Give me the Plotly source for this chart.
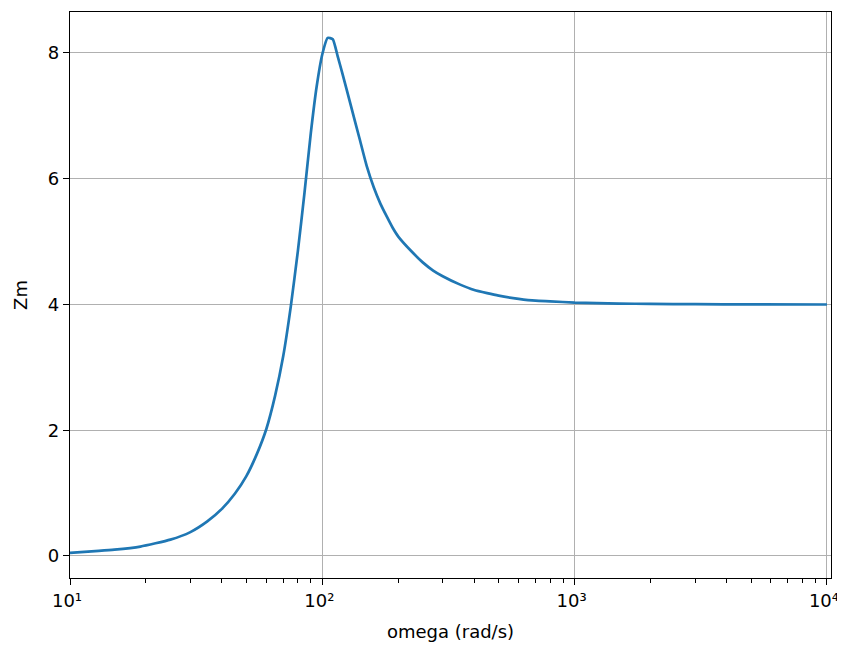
import plotly.graph_objects as go

omega = [10, 13, 15, 19, 25, 30, 35, 40, 45, 50, 55, 60, 65, 70, 75, 80, 85, 90, 95,
         100, 105, 110, 115, 120, 130, 140, 150, 160, 170, 180, 190, 200, 225, 250,
         275, 300, 350, 400, 450, 500, 600, 700, 800, 1000, 1500, 2000, 3000, 5000, 10000]
zm = [0.05, 0.08, 0.10, 0.15, 0.26, 0.38, 0.55, 0.75, 0.99, 1.27, 1.62, 2.02, 2.55,
      3.18, 3.97, 4.85, 5.78, 6.72, 7.47, 7.98, 8.24, 8.22, 7.95, 7.68, 7.15, 6.66,
      6.20, 5.86, 5.60, 5.40, 5.22, 5.08, 4.85, 4.67, 4.54, 4.45, 4.32, 4.23, 4.18,
      4.14, 4.09, 4.06, 4.05, 4.03, 4.015, 4.01, 4.005, 4.002, 4.0]

x_tickvals = [10, 100, 1000, 10000]
x_ticktext = ["10¹", "10²", "10³", "10⁴"]
y_tickvals = [0, 2, 4, 6, 8]
minor_vals = [m * d for d in (10, 100, 1000) for m in range(2, 10)]

font = dict(family="DejaVu Sans", size=18, color="black")

fig = go.Figure()
fig.add_trace(go.Scatter(x=omega, y=zm, mode="lines", line_shape="spline",
                         line=dict(color="#1f77b4", width=2.7, smoothing=0.5)))

# the page body adds an 8px offset, so the figure is sized/margined to compensate
fig.update_layout(
    width=837, height=640,
    margin=dict(l=62, r=14, t=4, b=70),
    paper_bgcolor="white", plot_bgcolor="white",
    font=font, showlegend=False,
    xaxis=dict(
        type="log", range=[1, 4.016], automargin=False,
        tickmode="array", tickvals=x_tickvals, ticktext=x_ticktext,
        ticks="outside", ticklen=6, tickwidth=1.4, tickcolor="black",
        ticklabeloverflow="allow", ticklabelshift=-3,
        showgrid=True, gridcolor="#b0b0b0", gridwidth=1.4,
        showline=True, linecolor="black", linewidth=1.4, mirror=True,
        zeroline=False,
        title=dict(text="omega (rad/s)", font=font),
        minor=dict(tickvals=minor_vals, ticks="outside", ticklen=3.5,
                   tickwidth=1, tickcolor="black", showgrid=False),
    ),
    yaxis=dict(
        range=[-0.35, 8.652], automargin=False,
        tickmode="array", tickvals=y_tickvals,
        ticks="outside", ticklen=6, tickwidth=1.4, tickcolor="black",
        showgrid=True, gridcolor="#b0b0b0", gridwidth=1.4,
        showline=True, linecolor="black", linewidth=1.4, mirror=True,
        zeroline=False,
        title=dict(text="Zm", font=font),
    ),
)

fig.write_html("out.html")
